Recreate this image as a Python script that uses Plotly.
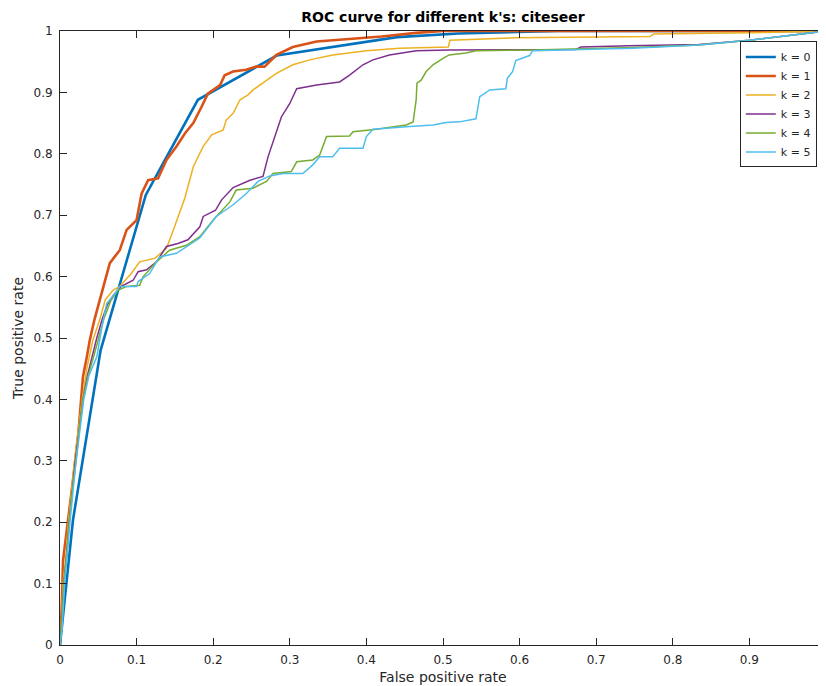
import plotly.graph_objects as go

# ---------------- data ----------------
labels = ["k = 0", "k = 1", "k = 2", "k = 3", "k = 4", "k = 5"]

fpr_k0 = [0, 0.017, 0.053, 0.112, 0.180, 0.283, 0.44, 0.52, 0.65, 1.0]
tpr_k0 = [0, 0.204, 0.48, 0.733, 0.888, 0.960, 0.99, 0.996, 1.0, 1.0]

fpr_k1 = [0, 0.001, 0.002, 0.004, 0.011, 0.017, 0.024, 0.030, 0.035, 0.039, 0.045, 0.052,
          0.065, 0.078, 0.087, 0.100, 0.1065, 0.115, 0.128, 0.139, 0.152, 0.163, 0.174,
          0.185, 0.193, 0.209, 0.215, 0.226, 0.243, 0.256, 0.267, 0.2825, 0.304, 0.335,
          0.378, 0.42, 0.465, 0.5, 1.0]
tpr_k1 = [0, 0.02, 0.052, 0.138, 0.204, 0.269, 0.345, 0.437, 0.469, 0.497, 0.53, 0.562,
          0.622, 0.643, 0.676, 0.692, 0.735, 0.757, 0.760, 0.790, 0.812, 0.833, 0.850,
          0.877, 0.898, 0.912, 0.928, 0.934, 0.937, 0.942, 0.942, 0.961, 0.974, 0.983,
          0.987, 0.991, 0.997, 1.0, 1.0]

fpr_k2 = [0, 0.002, 0.004, 0.008, 0.011, 0.015, 0.019, 0.024, 0.029, 0.035, 0.043, 0.052,
          0.059, 0.0695, 0.078, 0.093, 0.104, 0.124, 0.139, 0.148, 0.154, 0.163, 0.174,
          0.187, 0.198, 0.213, 0.217, 0.226, 0.235, 0.2455, 0.252, 0.261, 0.2825, 0.304,
          0.326, 0.356, 0.400, 0.443, 0.507, 0.509, 0.595, 0.77, 0.775, 0.9, 1.0]
tpr_k2 = [0, 0.04, 0.1, 0.15, 0.2, 0.25, 0.3, 0.35, 0.4, 0.45, 0.497, 0.53,
          0.562, 0.578, 0.584, 0.605, 0.624, 0.630, 0.646, 0.676, 0.697, 0.728, 0.779,
          0.812, 0.831, 0.839, 0.855, 0.866, 0.888, 0.896, 0.904, 0.912, 0.931, 0.945,
          0.953, 0.961, 0.968, 0.972, 0.974, 0.985, 0.989, 0.991, 0.995, 0.997, 1.0]

fpr_k3 = [0, 0.002, 0.005, 0.009, 0.012, 0.016, 0.020, 0.025, 0.030, 0.036, 0.042, 0.048,
          0.055, 0.062, 0.070, 0.080, 0.0955, 0.102, 0.113, 0.126, 0.139, 0.154, 0.167,
          0.176, 0.1825, 0.187, 0.203, 0.211, 0.226, 0.248, 0.265, 0.2716, 0.280, 0.289,
          0.300, 0.309, 0.335, 0.365, 0.378, 0.3955, 0.4085, 0.430, 0.465, 0.508, 0.674,
          0.68, 0.743, 0.834, 0.9, 1.0]
tpr_k3 = [0, 0.03, 0.1, 0.15, 0.2, 0.25, 0.3, 0.35, 0.4, 0.44, 0.47, 0.5,
          0.53, 0.555, 0.57, 0.584, 0.594, 0.608, 0.611, 0.624, 0.649, 0.654, 0.660,
          0.673, 0.681, 0.698, 0.708, 0.725, 0.745, 0.757, 0.763, 0.795, 0.828, 0.860,
          0.882, 0.906, 0.912, 0.917, 0.928, 0.945, 0.953, 0.961, 0.968, 0.969, 0.970,
          0.974, 0.976, 0.978, 0.985, 1.0]

fpr_k4 = [0, 0.002, 0.005, 0.009, 0.012, 0.016, 0.021, 0.025, 0.030, 0.037, 0.044, 0.050,
          0.057, 0.066, 0.076, 0.087, 0.104, 0.1086, 0.126, 0.143, 0.165, 0.1825, 0.200,
          0.222, 0.230, 0.252, 0.2695, 0.278, 0.302, 0.309, 0.330, 0.339, 0.348, 0.378,
          0.3825, 0.413, 0.452, 0.461, 0.465, 0.466, 0.4715, 0.478, 0.487, 0.4995, 0.508,
          0.530, 0.543, 0.617, 0.747, 0.834, 0.9, 1.0]
tpr_k4 = [0, 0.03, 0.1, 0.15, 0.2, 0.25, 0.3, 0.35, 0.4, 0.44, 0.47, 0.5,
          0.53, 0.56, 0.578, 0.584, 0.586, 0.600, 0.624, 0.643, 0.651, 0.665, 0.692,
          0.722, 0.741, 0.744, 0.755, 0.768, 0.771, 0.787, 0.790, 0.798, 0.828, 0.829,
          0.836, 0.840, 0.847, 0.852, 0.888, 0.915, 0.920, 0.934, 0.945, 0.955, 0.961,
          0.964, 0.968, 0.969, 0.973, 0.977, 0.985, 1.0]

fpr_k5 = [0, 0.003, 0.006, 0.010, 0.013, 0.017, 0.021, 0.026, 0.031, 0.038, 0.048, 0.055,
          0.061, 0.072, 0.078, 0.100, 0.102, 0.117, 0.130, 0.152, 0.165, 0.1825, 0.204,
          0.217, 0.226, 0.243, 0.2585, 0.274, 0.291, 0.317, 0.330, 0.339, 0.356, 0.365,
          0.3955, 0.400, 0.4085, 0.452, 0.487, 0.504, 0.5215, 0.543, 0.548, 0.561, 0.582,
          0.584, 0.591, 0.595, 0.613, 0.617, 0.747, 0.834, 0.9, 1.0]
tpr_k5 = [0, 0.03, 0.1, 0.16, 0.2, 0.25, 0.3, 0.35, 0.4, 0.44, 0.469, 0.52,
          0.556, 0.573, 0.584, 0.584, 0.592, 0.605, 0.632, 0.638, 0.649, 0.663, 0.698,
          0.709, 0.717, 0.735, 0.755, 0.764, 0.768, 0.768, 0.782, 0.795, 0.795, 0.809,
          0.809, 0.828, 0.840, 0.844, 0.847, 0.851, 0.852, 0.857, 0.893, 0.904, 0.906,
          0.923, 0.934, 0.952, 0.960, 0.968, 0.972, 0.977, 0.985, 1.0]

tick_vals = [0, 0.1, 0.2, 0.3, 0.4, 0.5, 0.6, 0.7, 0.8, 0.9, 1]
tick_text = ["0", "0.1", "0.2", "0.3", "0.4", "0.5", "0.6", "0.7", "0.8", "0.9", "1"]

# ---------------- styling ----------------
colors = ["#0072BD", "#D95319", "#EDB120", "#7E2F8E", "#77AC30", "#4DBEEE"]
widths = [2.6, 2.6, 1.5, 1.5, 1.5, 1.5]
axis_col = "#262626"
FONT = "DejaVu Sans"

# the page body has an 8px margin, so the figure starts at (8, 8)
FIG_W, FIG_H = 818, 678

series = [(fpr_k0, tpr_k0), (fpr_k1, tpr_k1), (fpr_k2, tpr_k2),
          (fpr_k3, tpr_k3), (fpr_k4, tpr_k4), (fpr_k5, tpr_k5)]

fig = go.Figure()
for (xs, ys), name, c, w in zip(series, labels, colors, widths):
    fig.add_trace(go.Scatter(x=xs, y=ys, mode="lines", name=name,
                             line=dict(color=c, width=w)))

axis_common = dict(
    range=[0, 1], tickvals=tick_vals, ticktext=tick_text,
    ticks="inside", ticklen=7, tickwidth=1, tickcolor=axis_col,
    showline=True, linecolor=axis_col, linewidth=1, mirror="ticks",
    showgrid=False, zeroline=False, automargin=False,
    tickfont=dict(family=FONT, size=12, color=axis_col),
)

fig.update_layout(
    width=FIG_W, height=FIG_H,
    margin=dict(l=52, r=0, t=23, b=41, autoexpand=False),
    paper_bgcolor="white", plot_bgcolor="white",
    font=dict(family=FONT, size=12, color=axis_col),
    title=dict(text="<b>ROC curve for different k's: citeseer</b>",
               x=0.5, xref="paper", xanchor="center",
               y=1 - 9 / FIG_H, yref="container", yanchor="middle",
               font=dict(family=FONT, size=14, color="#000000")),
    xaxis=dict(axis_common, ticklabelstandoff=4,
               title=dict(text="False positive rate", standoff=5,
                          font=dict(family=FONT, size=14, color=axis_col))),
    yaxis=dict(axis_common, ticklabelstandoff=4,
               title=dict(text="True positive rate", standoff=6,
                          font=dict(family=FONT, size=14, color=axis_col))),
    legend=dict(x=0.988, xanchor="right", y=0.983, yanchor="top",
                bgcolor="white", bordercolor=axis_col, borderwidth=1,
                font=dict(family=FONT, size=11, color=axis_col),
                tracegroupgap=0, itemwidth=30),
    showlegend=True,
)

fig.write_html("out.html")
